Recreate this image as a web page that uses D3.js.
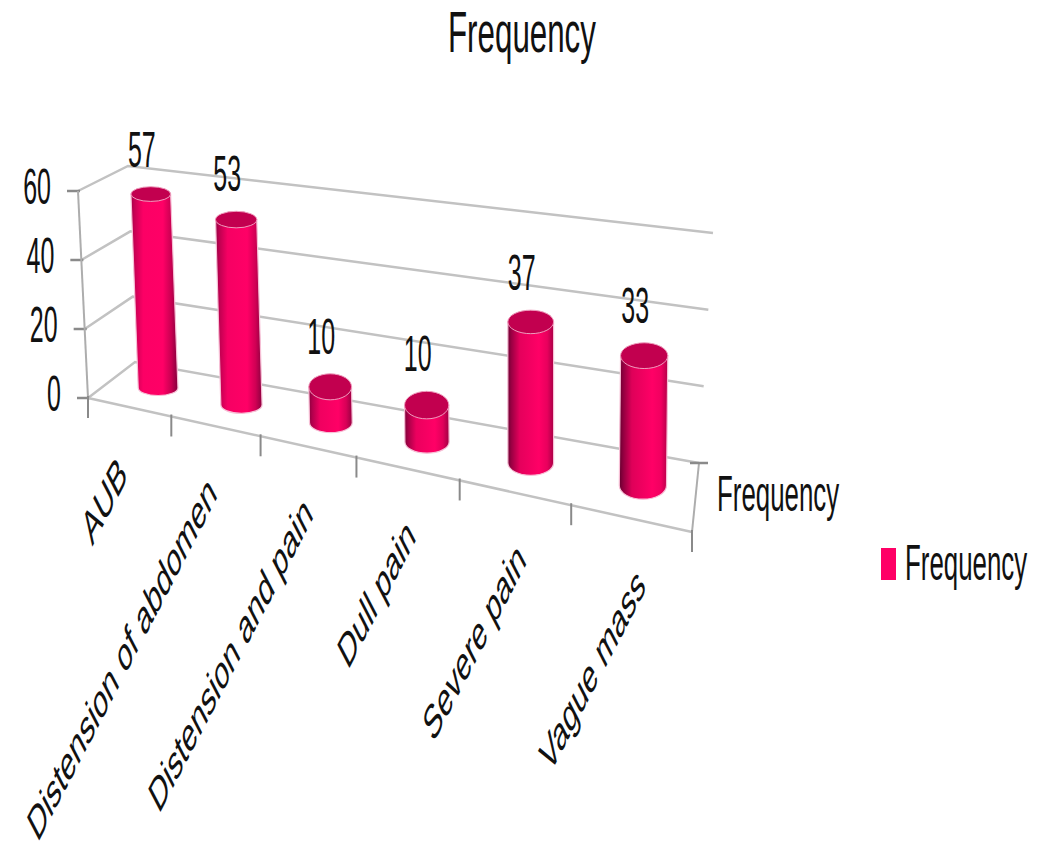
<!DOCTYPE html>
<html>
<head>
<meta charset="utf-8">
<script src="https://cdn.jsdelivr.net/npm/d3@7/dist/d3.min.js"></script>
<style>
  html, body { margin: 0; padding: 0; background: #fff; }
  svg { display: block; }
  text { font-family: "Liberation Sans", Arial, sans-serif; fill: #111; }
</style>
</head>
<body>
<svg id="chart" width="1037" height="861"></svg>
<script>
// Chart content
const categories = ["AUB", "Distension of abdomen", "Distension and pain", "Dull pain", "Severe pain", "Vague mass"];
const frequency = [57, 53, 10, 10, 37, 33];
const valueTicks = [0, 20, 40, 60];
const seriesName = "Frequency";

// Corners of the 3D plot box on screen: [x, y], f = front, b = back, l/r, 0 = floor, 1 = top
const box = {
  fl0: [88, 398], bl0: [135, 362], br0: [699, 463], fr0: [692, 532],
  fl1: [78, 191], bl1: [128, 166], br1: [713, 233], fr1: [685, 282]
};
const depthOfBars = 0.5;
const barShiftX = 7;
const perspective = 0.8;

const svg = d3.select("#chart");
const defs = svg.append("defs");

const mix = (a, b, t) => [a[0] + (b[0] - a[0]) * t, a[1] + (b[1] - a[1]) * t];
const warp = u => u * perspective / (1 + (perspective - 1) * u);

// Map box coordinates (u along categories, v into depth, h up) to the screen
function project(u, v, h) {
  const w = warp(u);
  const floor = mix(mix(box.fl0, box.fr0, w), mix(box.bl0, box.br0, w), v);
  const roof = mix(mix(box.fl1, box.fr1, w), mix(box.bl1, box.br1, w), v);
  return mix(floor, roof, h);
}

const uScale = d3.scaleBand().domain(categories).range([0, 1]).paddingInner(0).paddingOuter(0);
const hScale = d3.scaleLinear().domain([0, 60]).range([0, 1]);
const radiusScale = d3.scaleLinear().domain([0, 1]).range([19.5, 24]);
const line = d3.line();

const gridColor = "#c2c2c2", axisColor = "#adadad", tickColor = "#8a8a8a";

// Walls: gridlines on the side and back walls
valueTicks.forEach(t => {
  const h = hScale(t);
  svg.append("path").attr("fill", "none").attr("stroke", gridColor).attr("stroke-width", 2.5)
    .attr("d", line([project(0, 0, h), project(0, 1, h), project(1, 1, h)]));
  const p = project(0, 0, h);
  svg.append("line").attr("x1", p[0] - 11).attr("x2", p[0] + 2).attr("y1", p[1]).attr("y2", p[1])
    .attr("stroke", tickColor).attr("stroke-width", 2.5);
  svg.append("g").attr("transform", `translate(${p[0] - 27},${p[1] + 13}) scale(0.5,1)`)
    .append("text").attr("text-anchor", "end").attr("font-size", 50).text(t);
});

// Axis frame: vertical axis, floor front edge, right edges
svg.append("path").attr("fill", "none").attr("stroke", axisColor).attr("stroke-width", 2)
  .attr("d", line([project(0, 0, 1), project(0, 0, 0)]));
svg.append("path").attr("fill", "none").attr("stroke", gridColor).attr("stroke-width", 2.5)
  .attr("d", line([project(0, 0, 0), project(1, 0, 0)]));
svg.append("path").attr("fill", "none").attr("stroke", axisColor).attr("stroke-width", 2)
  .attr("d", line([project(1, 1, 0), project(1, 0, 0)]));

// Category ticks along the front edge of the floor
d3.range(categories.length + 1).forEach(i => {
  const p = project(i / categories.length, 0, 0);
  svg.append("line").attr("x1", p[0]).attr("x2", p[0]).attr("y1", p[1] - 2).attr("y2", p[1] + 20)
    .attr("stroke", tickColor).attr("stroke-width", 2);
});
const br = project(1, 1, 0);
svg.append("line").attr("x1", br[0] - 9).attr("x2", br[0] + 9).attr("y1", br[1]).attr("y2", br[1])
  .attr("stroke", tickColor).attr("stroke-width", 2.5);

// Cylinder shading shifts with the position along the axis
const shadeOffsets = [0, 0.08, 0.26, 0.68, 0.86, 1];
const shadeLeft = ["#a8004a", "#cf0056", "#ff0066", "#ff0066", "#c4004f", "#7d003b"];
const shadeRight = ["#5f002c", "#8a003d", "#dc0058", "#ff0066", "#f50062", "#b80049"];

// Bars
const barLayer = svg.append("g");
frequency.forEach((value, i) => {
  const u = uScale(categories[i]) + uScale.bandwidth() / 2;
  const hValue = hScale(value);
  const bottom = project(u, depthOfBars, 0);
  const top = project(u, depthOfBars, hValue);
  bottom[0] += barShiftX;
  top[0] += barShiftX;
  const rx = radiusScale(u);
  const ryTop = rx * (0.62 - 0.27 * hValue + 0.08 * u);
  const ryBase = rx * (0.36 + 0.24 * u);

  const grad = defs.append("linearGradient").attr("id", `shade${i}`);
  shadeOffsets.forEach((o, k) => grad.append("stop").attr("offset", o)
    .attr("stop-color", d3.interpolateRgb(shadeLeft[k], shadeRight[k])(u)));

  barLayer.append("path")
    .attr("fill", `url(#shade${i})`)
    .attr("stroke", "#f7c0d6").attr("stroke-width", 1.2)
    .attr("d", `M${top[0] - rx},${top[1]} L${bottom[0] - rx},${bottom[1]}
      A${rx},${ryBase} 0 0 0 ${bottom[0] + rx},${bottom[1]} L${top[0] + rx},${top[1]} Z`);
  barLayer.append("ellipse")
    .attr("cx", top[0]).attr("cy", top[1]).attr("rx", rx).attr("ry", ryTop)
    .attr("fill", "#c2004f").attr("stroke", "#ee9dbd").attr("stroke-width", 1);

  // Value above the bar
  svg.append("g")
    .attr("transform", `translate(${top[0] - 9},${top[1] - ryTop - 20}) scale(0.5,1)`)
    .append("text").attr("text-anchor", "middle").attr("font-size", 50).text(value);

  // Slanted category name under the floor edge: rotated, then squeezed sideways
  const edge = project(u, 0, 0);
  svg.append("text")
    .attr("transform", `translate(${edge[0] - 2 + 20 * u},${edge[1] + 70}) scale(0.52,1) rotate(-45)`)
    .attr("text-anchor", "end").attr("font-size", 48)
    .attr("fill", "#2c2c2c").text(categories[i]);
});

// Depth axis label, chart title, legend
const narrowText = (x, y, size, sx, label) => svg.append("g")
  .attr("transform", `translate(${x},${y}) scale(${sx},1)`)
  .append("text").attr("font-size", size).text(label);

narrowText(717, 511, 50, 0.517, seriesName);
narrowText(448, 52, 58, 0.54, seriesName);
narrowText(905, 580, 50, 0.517, seriesName);
svg.append("rect").attr("x", 881).attr("y", 548).attr("width", 15).attr("height", 32).attr("fill", "#ff0066");
</script>
</body>
</html>
